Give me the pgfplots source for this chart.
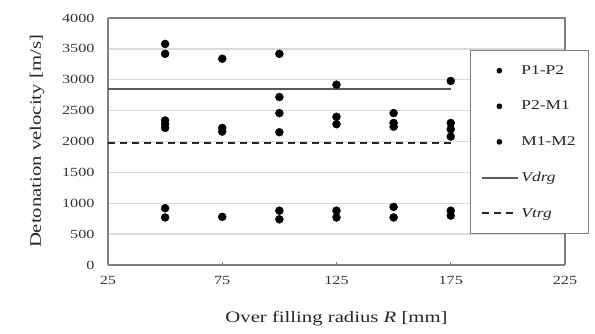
\documentclass[border=0pt]{standalone}
\usepackage{pgfplots}
\pgfplotsset{compat=1.18}
\usepackage{fontspec}
\setmainfont[FakeStretch=1.3]{Liberation Serif}
\definecolor{axgray}{HTML}{7F7F7F}
\definecolor{gridgray}{HTML}{D9D9D9}
\definecolor{vdrg}{HTML}{5A5A5A}
\begin{document}
\begin{tikzpicture}
\path[use as bounding box] (-108bp,-69bp) rectangle (487bp,265bp);
\begin{axis}[
  scale only axis,
  width=457bp, height=247bp,
  at={(0,0)}, anchor=south west,
  xmin=25, xmax=225, ymin=0, ymax=4000,
  xtick={25,75,125,175,225},
  ytick={0,500,...,4000},
  /pgf/number format/assume math mode=true,
  /pgf/number format/1000 sep={},
  tick label style={font=\fontsize{12.5}{14}\selectfont, text=black!80},
  xticklabel style={yshift=-8bp},
  yticklabel style={xshift=-10bp},
  label style={font=\fontsize{16}{18}\selectfont, text=black!85},
  xlabel={Over filling radius \textit{R} [mm]},
  ylabel={Detonation velocity [m/s]},
  xlabel style={at={(axis description cs:0.5,0)}, anchor=center, yshift=-54bp},
  ylabel style={at={(axis description cs:-0.155,0.5)}, anchor=center},
  ymajorgrids,
  grid style={gridgray, line width=1.3bp},
  axis line style={axgray, line width=1.4bp},
  axis x line*=bottom, axis y line*=left,
  ytick style={draw=none},
  xtick style={axgray, line width=0.6bp},
  tick align=inside, major tick length=3bp,
  clip=false,
  legend style={at={(0.792,0.870)}, anchor=north west, draw=axgray, line width=0.8bp,
    font=\fontsize{13.5}{15}\selectfont, text=black!85, fill=white,
    row sep=21.2bp, inner xsep=11bp, inner ysep=13bp},
  legend cell align=left,
]
\draw[axgray, line width=1.4bp] (rel axis cs:0,1) -- (rel axis cs:1,1) -- (rel axis cs:1,0);
\addplot[only marks, mark=*, mark size=4bp, black, legend image code/.code={\fill[black] (17bp,0bp) circle (2.4bp);}] coordinates {
 (50,3580) (50,3420) (75,3340) (100,3420) (125,2920) (175,2980)};
\addlegendentry{P1-P2}
\addplot[only marks, mark=*, mark size=4bp, black, legend image code/.code={\fill[black] (17bp,0bp) circle (2.4bp);}] coordinates {
 (50,2340) (50,2280) (50,2220) (75,2220) (75,2160)
 (100,2720) (100,2460) (100,2150) (125,2400) (125,2280)
 (150,2460) (150,2300) (150,2240) (175,2300) (175,2200) (175,2080)};
\addlegendentry{P2-M1}
\addplot[only marks, mark=*, mark size=4bp, black, legend image code/.code={\fill[black] (17bp,0bp) circle (2.4bp);}] coordinates {
 (50,920) (50,770) (75,780) (100,880) (100,740) (125,880) (125,770)
 (150,940) (150,770) (175,880) (175,800)};
\addlegendentry{M1-M2}
\addplot[vdrg, line width=2.4bp, legend image code/.code={\draw[vdrg, line width=2bp] (0bp,0bp) -- (36bp,0bp);}] coordinates {(25,2850) (175,2850)};
\addlegendentry{\textit{Vdrg}}
\addplot[black!85, line width=2.4bp, dash pattern=on 7bp off 5bp, legend image code/.code={\draw[black!85, line width=2bp, dash pattern=on 7bp off 5bp] (0bp,0bp) -- (36bp,0bp);}] coordinates {(25,1975) (175,1975)};
\addlegendentry{\textit{Vtrg}}
\end{axis}
\end{tikzpicture}
\end{document}
